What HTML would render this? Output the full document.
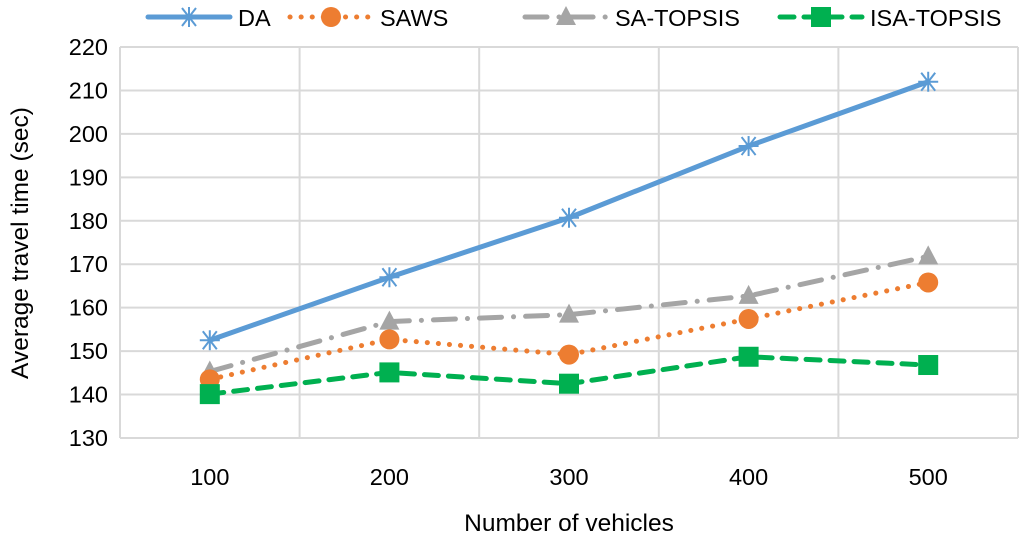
<!DOCTYPE html>
<html><head><meta charset="utf-8"><style>
body{margin:0;background:#fff;}
svg{display:block;font-family:"Liberation Sans",sans-serif;}
</style></head><body>
<svg id="chart" width="1024" height="540"></svg>
<script>
const categories=["100","200","300","400","500"];
const yTicks=[130,140,150,160,170,180,190,200,210,220];
const daValues=[152.5,167,180.7,197.2,212];
const sawsValues=[143.5,152.7,149.2,157.4,165.8];
const saTopsisValues=[145.3,156.8,158.4,162.7,171.8];
const isaTopsisValues=[140.1,145.1,142.5,148.7,146.8];
const seriesNames=["DA","SAWS","SA-TOPSIS","ISA-TOPSIS"];

const NS="http://www.w3.org/2000/svg";
const svg=document.getElementById('chart');
const L=120,R=1018,T=47,B=438,yMin=130,yMax=220;
const xs=i=>L+(R-L)/categories.length*(i+0.5);
const ys=v=>B-(v-yMin)/(yMax-yMin)*(B-T);
function mk(tag,attrs,parent){const e=document.createElementNS(NS,tag);for(const k in attrs)e.setAttribute(k,attrs[k]);(parent||svg).appendChild(e);return e;}

const grid=mk('g',{});


yTicks.forEach(t=>{
  mk('line',{x1:L,x2:R,y1:ys(t),y2:ys(t),stroke:'#d9d9d9','stroke-width':2},grid);
  const tx=mk('text',{x:108,y:ys(t)+8,'text-anchor':'end','font-size':23.5,fill:'#000'});
  tx.textContent=t;
  
  
});
for(let i=0;i<=categories.length;i++){
  const x=L+(R-L)/categories.length*i;
  mk('line',{x1:x,x2:x,y1:T,y2:B,stroke:'#d9d9d9','stroke-width':2},grid);
}
categories.forEach((c,i)=>{
  const tx=mk('text',{x:xs(i),y:485,'text-anchor':'middle','font-size':23.5,fill:'#000'});
  tx.textContent=c;
  
  
});
const xt=mk('text',{x:569,y:531,'text-anchor':'middle','font-size':24.5,fill:'#000'});
xt.textContent='Number of vehicles';


const yt=mk('text',{x:0,y:0,'text-anchor':'middle','font-size':24.5,fill:'#000',transform:'translate(28,243) rotate(-90)'});
yt.textContent='Average travel time (sec)';



function marker(type,x,y,g){
  if(type==='star'){
    const c='#5b9bd5';
    [[-10,0,10,0],[-7,-9,7,9],[-7,9,7,-9],[0,-10,0,10]].forEach(a=>mk('line',{x1:x+a[0],y1:y+a[1],x2:x+a[2],y2:y+a[3],stroke:c,'stroke-width':2},g));
  }else if(type==='circle'){mk('circle',{cx:x,cy:y,r:10,fill:'#ed7d31'},g);}
  else if(type==='tri'){mk('polygon',{points:`${x},${y-11} ${x+10},${y+8} ${x-10},${y+8}`,fill:'#a5a5a5'},g);}
  else{mk('rect',{x:x-10,y:y-10,width:20,height:20,fill:'#00b050'},g);}
}
const series=[
 {vals:daValues,color:'#5b9bd5',dash:'',cap:'round',m:'star',name:'series-da'},
 {vals:sawsValues,color:'#ed7d31',dash:'0.1 11',cap:'round',m:'circle',name:'series-saws'},
 {vals:saTopsisValues,color:'#a5a5a5',dash:'22 12 0.1 12',cap:'round',m:'tri',name:'series-sa-topsis'},
 {vals:isaTopsisValues,color:'#00b050',dash:'14 10',cap:'round',m:'sq',name:'series-isa-topsis'}
];
[2,1,3,0].forEach(si=>{
  const s=series[si];
  const g=mk('g',{});
  
  
  mk('polyline',{points:s.vals.map((v,i)=>xs(i)+','+ys(v)).join(' '),fill:'none',stroke:s.color,'stroke-width':5,'stroke-dasharray':s.dash,'stroke-linecap':s.cap},g);
  s.vals.forEach((v,i)=>marker(s.m,xs(i),ys(v),g));
});
const lg=mk('g',{});


const lx=[148,290,525,780];
series.forEach((s,i)=>{
  const e=mk('g',{},lg);
  
  
  mk('line',{x1:lx[i],x2:lx[i]+82,y1:17,y2:17,stroke:s.color,'stroke-width':5,'stroke-dasharray':s.dash,'stroke-linecap':s.cap},e);
  marker(s.m,lx[i]+41,17,e);
  const t=mk('text',{x:lx[i]+90,y:26,'font-size':23.5,fill:'#000'},e);
  t.textContent=seriesNames[i];
});
</script>
</body></html>
